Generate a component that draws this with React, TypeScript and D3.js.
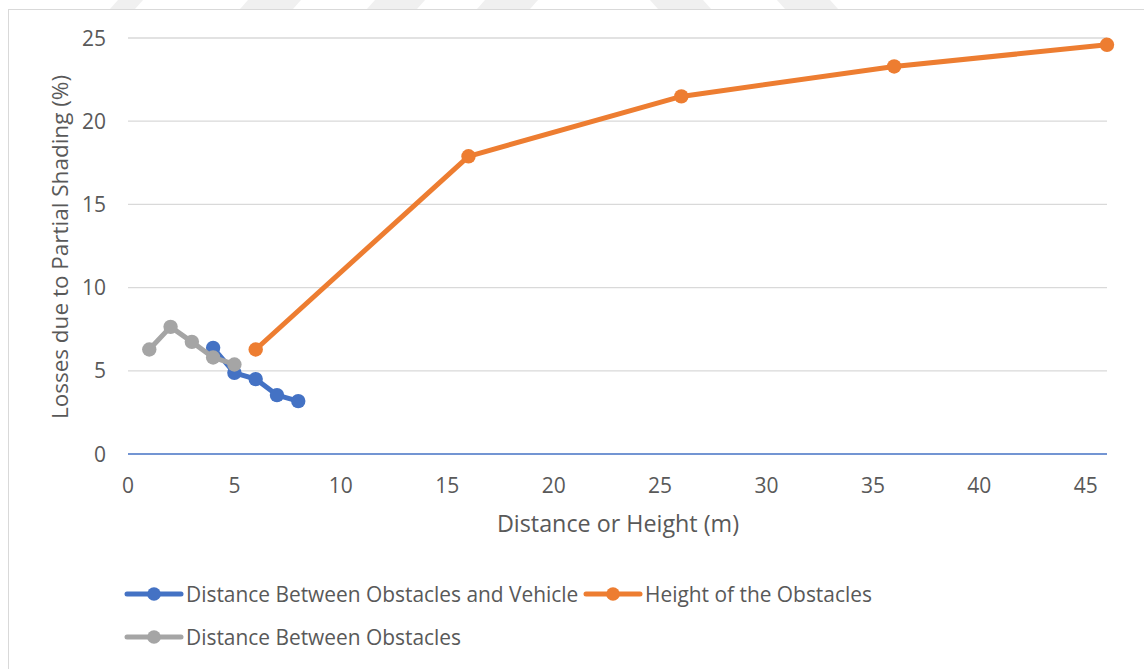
import React from "react";
import * as d3 from "d3";

// Series data: losses due to partial shading (%) versus distance or height (m)
const vehicleDistance = [4, 5, 6, 7, 8];
const vehicleLosses = [6.38, 4.88, 4.5, 3.54, 3.18];

const obstacleHeight = [6, 16, 26, 36, 46];
const heightLosses = [6.28, 17.89, 21.49, 23.29, 24.59];

const obstacleDistance = [1, 2, 3, 4, 5];
const obstacleLosses = [6.28, 7.64, 6.74, 5.8, 5.38];

const xTicks = [0, 5, 10, 15, 20, 25, 30, 35, 40, 45];
const yTicks = [0, 5, 10, 15, 20, 25];

const seriesNames = [
  "Distance Between Obstacles and Vehicle",
  "Height of the Obstacles",
  "Distance Between Obstacles",
];
const seriesColors = ["#4472C4", "#ED7D31", "#A5A5A5"];

const W = 1144;
const H = 669;
const plot = { left: 128, right: 1107, top: 38, bottom: 454 };
const FONT = "'Open Sans', 'Noto Sans', sans-serif";
const TEXT = "#595959";

export default function App() {
  const x = d3.scaleLinear().domain([0, 46]).range([plot.left, plot.right]);
  const y = d3.scaleLinear().domain([0, 25]).range([plot.bottom, plot.top]);

  const line = d3
    .line<[number, number]>()
    .x((d) => x(d[0]))
    .y((d) => y(d[1]));

  const series = [
    { xs: vehicleDistance, ys: vehicleLosses, color: seriesColors[0] },
    { xs: obstacleHeight, ys: heightLosses, color: seriesColors[1] },
    { xs: obstacleDistance, ys: obstacleLosses, color: seriesColors[2] },
  ].map((s) => ({ ...s, pts: s.xs.map((v, i) => [v, s.ys[i]] as [number, number]) }));

  const legend = [
    { name: seriesNames[0], color: seriesColors[0], x0: 127, yc: 594 },
    { name: seriesNames[1], color: seriesColors[1], x0: 586, yc: 594 },
    { name: seriesNames[2], color: seriesColors[2], x0: 127, yc: 637 },
  ];

  // faint background stripes above the chart frame
  const stripes = [
    [110, 135], [240, 293], [367, 417], [477, 530], [650, 703], [777, 830],
  ];

  return (
    <svg
      width={W}
      height={H}
      viewBox={`0 0 ${W} ${H}`}
      style={{ position: "absolute", left: 0, top: 0, background: "#fff" }}
      fontFamily={FONT}
    >
      <rect x={0} y={0} width={W} height={H} fill="#fff" />
      {stripes.map(([a, b], i) => (
        <polygon
          key={i}
          points={
            i < 4
              ? `${a + 8},0 ${b + 8},0 ${b},9 ${a},9`
              : `${a},0 ${b},0 ${b + 8},9 ${a + 8},9`
          }
          fill="#f0f0f0"
        />
      ))}
      {/* chart frame */}
      <rect x={8.5} y={9.5} width={W + 10} height={H + 10} fill="none" stroke="#D9D9D9" strokeWidth={1} />

      {/* gridlines */}
      {yTicks
        .filter((t) => t !== 0)
        .map((t) => (
          <line key={t} x1={plot.left} x2={plot.right} y1={y(t)} y2={y(t)} stroke="#D9D9D9" strokeWidth={1.3} />
        ))}
      {/* horizontal axis line */}
      <line x1={plot.left} x2={plot.right} y1={y(0)} y2={y(0)} stroke="#4472C4" strokeWidth={1.5} />

      {/* y tick labels */}
      {yTicks.map((t) => (
        <text key={t} x={106} y={y(t)} dy="0.36em" textAnchor="end" fontSize={21} fill={TEXT}>
          {t}
        </text>
      ))}
      {/* x tick labels */}
      {xTicks.map((t) => (
        <text key={t} x={x(t)} y={493} textAnchor="middle" fontSize={21} fill={TEXT}>
          {t}
        </text>
      ))}

      {/* axis titles */}
      <text x={618} y={532} textAnchor="middle" fontSize={23.3} fill={TEXT}>
        Distance or Height (m)
      </text>
      <text
        transform={`translate(68, 247) rotate(-90)`}
        textAnchor="middle"
        fontSize={22.5}
        fill={TEXT}
      >
        Losses due to Partial Shading (%)
      </text>

      {/* series */}
      {series.map((s, i) => (
        <g key={i}>
          <path d={line(s.pts) || ""} fill="none" stroke={s.color} strokeWidth={5} strokeLinejoin="round" strokeLinecap="round" />
          {s.pts.map((p, j) => (
            <circle key={j} cx={x(p[0])} cy={y(p[1])} r={7.2} fill={s.color} />
          ))}
        </g>
      ))}

      {/* legend */}
      {legend.map((l, i) => (
        <g key={i}>
          <line x1={l.x0} x2={l.x0 + 54} y1={l.yc} y2={l.yc} stroke={l.color} strokeWidth={5} strokeLinecap="round" />
          <circle cx={l.x0 + 27} cy={l.yc} r={6.8} fill={l.color} />
          <text x={l.x0 + 59} y={l.yc} dy="0.36em" fontSize={20.9} fill={TEXT}>
            {l.name}
          </text>
        </g>
      ))}
    </svg>
  );
}
